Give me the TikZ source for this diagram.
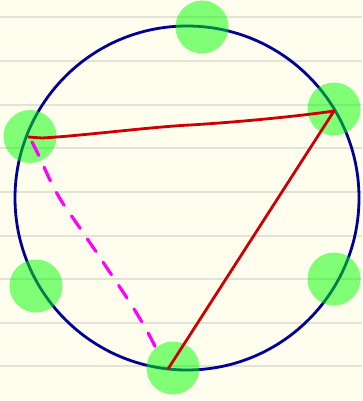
\documentclass[tikz,border=0pt]{standalone}
\usetikzlibrary{calc}
\definecolor{paper}{RGB}{255,253,238}
\definecolor{rule}{RGB}{226,226,214}
\definecolor{ringblue}{RGB}{0,0,150}
\definecolor{chordred}{RGB}{204,0,0}
\definecolor{dashmag}{RGB}{255,0,255}
\definecolor{dotgreen}{RGB}{0,255,0}
\tikzset{
  ruleline/.style={draw=rule, line width=1.3pt},
  ring/.style={circle, draw=ringblue, line width=2.8pt, minimum size=344pt, inner sep=0pt},
  dot/.style={circle, fill=dotgreen, fill opacity=0.5, minimum size=53pt, inner sep=0pt},
  chord/.style={draw=chordred, line width=2.8pt, line join=round},
  dashpath/.style={draw=dashmag, line width=3.2pt, line cap=round, dash pattern=on 15pt off 13pt},
}
\begin{document}
\begin{tikzpicture}[x=1pt, y=-1pt]
  \fill[paper] (0,0) rectangle (362,401);
  \useasboundingbox (0,0) rectangle (362,401);
  \foreach \yy in {17,61,105,148,192,236,279,323,366}
    \draw[ruleline] (0,\yy) -- (362,\yy);
  \node[ring] (ring) at (187,198) {};
  \node[dot] (d1) at (202,27) {};
  \node[dot] (d2) at (334,109) {};
  \node[dot] (d3) at (30,136.5) {};
  \node[dot] (d4) at (36,286) {};
  \node[dot] (d5) at (334,279) {};
  \node[dot] (d6) at (173,368) {};
  \coordinate (pl) at (28,137);
  \coordinate (pr) at (334,111);
  \coordinate (pb) at (168,369);
  \coordinate (ms) at (32,142);
  \coordinate (me) at (160,357);
  \draw[chord] (pl) -- (42,138) .. controls (80,136) and (150,127) .. (190,125)
     .. controls (240,122) and (300,116) .. (pr) -- (pb);
  \draw[dashpath] (ms) .. controls (42,160) and (50,185) .. (66,208)
     .. controls (80,228) and (95,250) .. (115,280)
     .. controls (132,305) and (148,330) .. (me);
\end{tikzpicture}
\end{document}
